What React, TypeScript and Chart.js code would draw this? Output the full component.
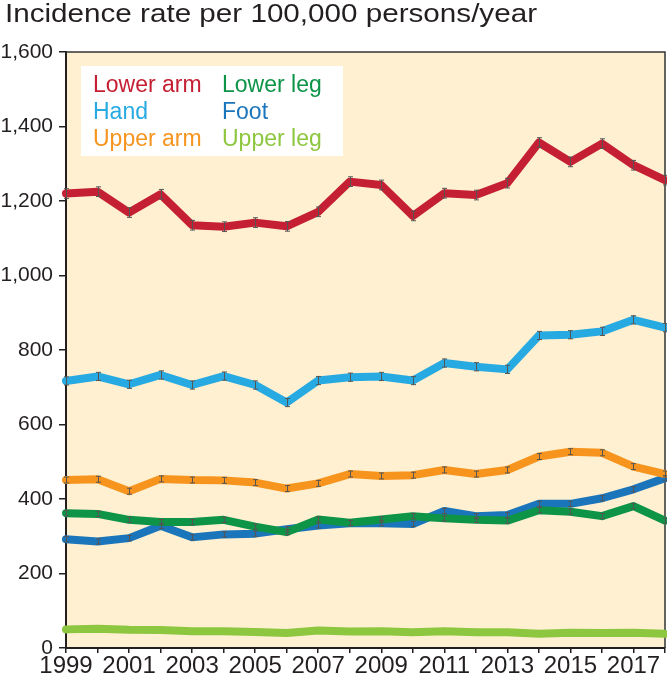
import { useEffect, useRef } from 'react';
import { Chart, registerables } from 'chart.js';

Chart.register(...registerables);

const years = ['1999','2000','2001','2002','2003','2004','2005','2006','2007','2008','2009','2010','2011','2012','2013','2014','2015','2016','2017','2018'];
const lowerArm = [1220,1225,1169,1218,1135,1131,1142,1132,1171,1252,1243,1160,1221,1216,1248,1357,1305,1354,1296,1256];
const hand = [717,729,708,733,706,730,706,659,718,727,729,718,765,755,748,839,841,850,881,860];
const upperArm = [451,453,421,454,451,450,444,428,442,467,462,464,478,467,478,514,527,524,487,467];
const lowerLeg = [362,360,344,338,338,344,326,311,345,336,345,354,348,344,342,370,366,354,381,342];
const foot = [292,286,295,328,297,305,307,319,329,335,335,333,368,354,357,387,387,402,426,456];
const upperLeg = [50,52,49,48,45,45,43,40,47,44,45,42,45,42,42,38,41,40,41,38];
// half-width of the confidence interval drawn as error bars
const errLowerArm = 13;
const errHand = 11;
const errUpperArm = 8;
const errLowerLeg = 7;
const errFoot = 7;
const errUpperLeg = 0;

const yTicks = [0, 200, 400, 600, 800, 1000, 1200, 1400, 1600];
const titleText = 'Incidence rate per 100,000 persons/year';

const FONT = "'Liberation Sans', Arial, sans-serif";
const INK = '#231F20';

const series = [
  { label: 'Lower arm', data: lowerArm, err: errLowerArm, color: '#C41F33' },
  { label: 'Hand', data: hand, err: errHand, color: '#27AAE1' },
  { label: 'Upper arm', data: upperArm, err: errUpperArm, color: '#F7941E' },
  { label: 'Lower leg', data: lowerLeg, err: errLowerLeg, color: '#0D9447' },
  { label: 'Foot', data: foot, err: errFoot, color: '#1B75BB' },
  { label: 'Upper leg', data: upperLeg, err: errUpperLeg, color: '#8DC63F' },
];

const legendOrder = [
  ['Lower arm', 'Lower leg'],
  ['Hand', 'Foot'],
  ['Upper arm', 'Upper leg'],
];

const framePlugin = {
  id: 'frame',
  beforeDraw(chart: any) {
    const { ctx, chartArea: a } = chart;
    ctx.save();
    ctx.fillStyle = '#FEF0D1';
    ctx.fillRect(a.left, a.top, a.right - a.left, a.bottom - a.top);
    // title (drawn slightly widened, like the original typeface)
    ctx.font = `25px ${FONT}`;
    ctx.fillStyle = INK;
    ctx.textAlign = 'left';
    ctx.textBaseline = 'alphabetic';
    const w = ctx.measureText(titleText).width;
    ctx.translate(5, 22);
    ctx.scale(532 / w, 1);
    ctx.fillText(titleText, 0, 0);
    ctx.restore();
  },
  beforeDatasetsDraw(chart: any) {
    const { ctx, chartArea: a } = chart;
    ctx.save();
    ctx.strokeStyle = '#333';
    ctx.lineWidth = 1.5;
    ctx.beginPath();
    ctx.moveTo(a.left, a.top);
    ctx.lineTo(a.right, a.top);
    ctx.lineTo(a.right, a.bottom);
    ctx.stroke();
    // legend box
    const bx = a.left + 15;
    const by = a.top + 14;
    ctx.fillStyle = '#FFFFFF';
    ctx.fillRect(bx, by, 262, 90);
    ctx.font = `23px ${FONT}`;
    ctx.textBaseline = 'alphabetic';
    ctx.textAlign = 'left';
    legendOrder.forEach((row, r) => {
      row.forEach((name, c) => {
        const s = series.find((d) => d.label === name)!;
        ctx.fillStyle = s.color;
        ctx.fillText(name, bx + 12 + c * 129, by + 26 + r * 27);
      });
    });
    ctx.restore();
  },
  afterDatasetsDraw(chart: any) {
    const { ctx } = chart;
    const xs = chart.scales.x;
    const ys = chart.scales.y;
    ctx.save();
    ctx.strokeStyle = '#555';
    ctx.lineWidth = 1;
    series.forEach((s) => {
      if (!s.err) return;
      s.data.forEach((v, i) => {
        const x = Math.round(xs.getPixelForValue(i)) + 0.5;
        const y1 = ys.getPixelForValue(v + s.err);
        const y2 = ys.getPixelForValue(v - s.err);
        ctx.beginPath();
        ctx.moveTo(x, y1);
        ctx.lineTo(x, y2);
        ctx.moveTo(x - 2.5, y1);
        ctx.lineTo(x + 2.5, y1);
        ctx.moveTo(x - 2.5, y2);
        ctx.lineTo(x + 2.5, y2);
        ctx.stroke();
      });
    });
    ctx.restore();
  },
};

export default function App() {
  const ref = useRef<HTMLCanvasElement>(null);
  useEffect(() => {
    document.body.style.margin = '0';
    const chart = new Chart(ref.current!, {
      type: 'line',
      data: {
        labels: years,
        datasets: series.map((s) => ({
          label: s.label,
          data: s.data,
          borderColor: s.color,
          backgroundColor: s.color,
          borderWidth: 8,
          pointRadius: 0,
          tension: 0,
          borderJoinStyle: 'round' as const,
          borderCapStyle: 'round' as const,
        })),
      },
      options: {
        animation: false,
        responsive: true,
        maintainAspectRatio: false,
        layout: { padding: { left: 0, right: 2, top: 52, bottom: 0 } },
        plugins: {
          legend: { display: false },
          tooltip: { enabled: false },
          title: { display: false },
        },
        scales: {
          x: {
            type: 'category',
            offset: false,
            grid: { drawOnChartArea: false, drawTicks: true, tickLength: 5, color: INK, lineWidth: 1.5 },
            border: { display: true, color: INK, width: 2 },
            ticks: {
              autoSkip: false,
              maxRotation: 0,
              minRotation: 0,
              padding: 1,
              color: INK,
              font: { family: FONT, size: 24, lineHeight: 1 },
              callback: (_v: any, i: number) => (i % 2 === 0 ? years[i] : ''),
            },
            afterFit: (scale: any) => {
              scale.height = 28;
            },
          },
          y: {
            min: 0,
            max: 1600,
            afterBuildTicks: (scale: any) => {
              scale.ticks = yTicks.map((v) => ({ value: v }));
            },
            grid: { drawOnChartArea: false, drawTicks: true, tickLength: 7, color: INK, lineWidth: 1.5 },
            border: { display: true, color: INK, width: 2 },
            ticks: {
              padding: 6,
              color: INK,
              font: { family: FONT, size: 21 },
              callback: (v: any) => Number(v).toLocaleString('en-US'),
            },
            afterFit: (scale: any) => {
              scale.width = 66;
            },
          },
        },
      },
      plugins: [framePlugin],
    });
    return () => chart.destroy();
  }, []);
  return (
    <div style={{ position: 'relative', width: 667, height: 676 }}>
      <canvas ref={ref} />
    </div>
  );
}
